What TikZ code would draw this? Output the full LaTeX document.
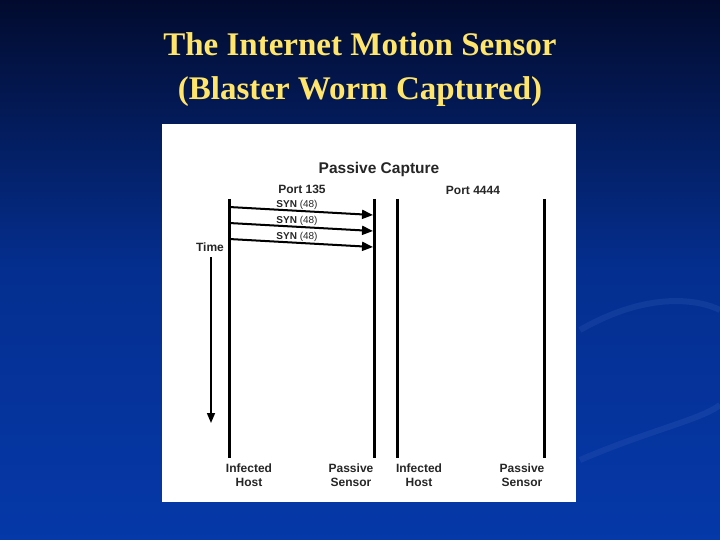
\documentclass[tikz,border=0pt]{standalone}
\usepackage{fontspec}
\setmainfont{Liberation Serif}
\newfontfamily\hv{Liberation Sans}
\usetikzlibrary{arrows.meta}
\definecolor{navytop}{HTML}{020B2E}
\definecolor{bluebot}{HTML}{0538A8}
\definecolor{titley}{HTML}{FFE66A}
\tikzset{
 life/.style={line width=3pt},
 msg/.style={line width=2pt,-{Triangle[length=11pt,width=9pt]}},
 lab/.style={font=\hv\bfseries\fontsize{12}{14}\selectfont,align=center,text=black!85},
 syn/.style={font=\hv\bfseries\fontsize{10}{11}\selectfont,text=black!85},
 ttl/.style={text=titley,font=\bfseries\fontsize{33}{40}\selectfont}
}
\begin{document}
\begin{tikzpicture}[x=1pt,y=-1pt]
\shade[top color=navytop,bottom color=bluebot,middle color=bluebot!80!navytop] (0,0) rectangle (720,540);
\useasboundingbox (0,0) rectangle (720,540);
\draw[bluebot!80!white,opacity=0.25,line width=6pt] (580,330) .. controls (650,290) and (700,300) .. (720,310);
\draw[bluebot!80!white,opacity=0.25,line width=6pt] (580,460) .. controls (650,430) and (700,420) .. (720,405);
\node[ttl] (title1) at (360,44) {The Internet Motion Sensor};
\node[ttl] (title2) at (360,92) {(Blaster Worm Captured)};
\node[fill=white,minimum width=414pt,minimum height=378pt,inner sep=0pt] (panel) at (369,313) {};
\node[lab,font=\hv\bfseries\fontsize{15.5}{17}\selectfont] (pc) at (379,169) {Passive Capture};
\node[lab] (p135) at (302,189) {Port 135};
\node[lab] (p4444) at (473,190) {Port 4444};
\coordinate (a1) at (229,199); \coordinate (a2) at (229,458);
\coordinate (b1) at (374,199); \coordinate (b2) at (374,458);
\coordinate (c1) at (397,199); \coordinate (c2) at (397,458);
\coordinate (d1) at (544,199); \coordinate (d2) at (544,458);
\draw[life] (a1) -- (a2); \draw[life] (b1) -- (b2);
\draw[life] (c1) -- (c2); \draw[life] (d1) -- (d2);
\coordinate (s1) at (229,207); \coordinate (e1) at (373,215);
\coordinate (s2) at (229,223); \coordinate (e2) at (373,231);
\coordinate (s3) at (229,239); \coordinate (e3) at (373,247);
\draw[msg] (s1) -- (e1); \draw[msg] (s2) -- (e2); \draw[msg] (s3) -- (e3);
\node[syn] (l1) at (297,205) {SYN {\mdseries(48)}};
\node[syn] (l2) at (297,221) {SYN {\mdseries(48)}};
\node[syn] (l3) at (297,237) {SYN {\mdseries(48)}};
\node[lab] (time) at (210,247) {Time};
\coordinate (t1) at (211,257); \coordinate (t2) at (211,423);
\draw[line width=1.5pt,-{Triangle[length=10pt,width=8pt]}] (t1) -- (t2);
\node[lab] (h1) at (249,475) {Infected\\Host};
\node[lab] (ps1) at (351,475) {Passive\\Sensor};
\node[lab] (h2) at (419,475) {Infected\\Host};
\node[lab] (ps2) at (522,475) {Passive\\Sensor};
\end{tikzpicture}
\end{document}
